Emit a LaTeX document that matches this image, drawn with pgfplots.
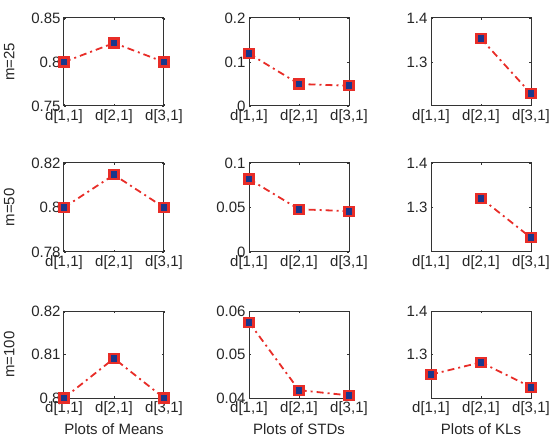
\documentclass[border=0pt]{standalone}
\usepackage{pgfplots}
\pgfplotsset{compat=1.18}
\usepackage{fontspec}
\setmainfont{Liberation Sans}
\definecolor{lred}{RGB}{232,45,40}
\definecolor{mblue}{RGB}{25,55,140}
\pgfplotsset{
 panel/.style={
   scale only axis, width=100pt, height=88pt,
   anchor=south west,
   xmin=1, xmax=3, xtick={1,2,3},
   xticklabels={{d[1,1]},{d[2,1]},{d[3,1]}},
   tick align=inside, major tick length=2pt,
   axis line style={line width=1pt, black!80},
   tick style={black!80, line width=0.6pt},
   clip=false,
   scaled y ticks=false,
   yticklabel style={/pgf/number format/fixed, /pgf/number format/precision=2},
   /pgf/number format/assume math mode=true,
   every tick label/.append style={text=black!85},
   every axis y label/.style={at={(axis description cs:-0.46,0.5)}, rotate=90, anchor=south, text=black!85},
   every axis x label/.style={at={(axis description cs:0.5,0)}, anchor=north, yshift=-22pt, text=black!85},
 },
 ser/.style={lred, line width=1.8pt, dash pattern=on 7pt off 4pt on 2pt off 4pt,
   mark=square*, mark size=4.5pt, mark options={solid, draw=lred, fill=mblue, line width=2.2pt}},
}
\begin{document}
\begin{tikzpicture}[font=\fontsize{15}{18}\selectfont]
\useasboundingbox (0,0) rectangle (550pt,440pt);
% Row 1: m=25
\begin{axis}[panel, at={(64pt,334pt)}, ymin=0.75, ymax=0.85, ytick={0.75,0.8,0.85}, ylabel={m=25}]
\addplot[ser] coordinates {(1,0.800) (2,0.8216) (3,0.800)};
\end{axis}
\begin{axis}[panel, at={(249pt,334pt)}, ymin=0, ymax=0.2, ytick={0,0.1,0.2}]
\addplot[ser] coordinates {(1,0.119) (2,0.050) (3,0.046)};
\end{axis}
\begin{axis}[panel, at={(431pt,334pt)}, ymin=1.2, ymax=1.4, ytick={1.3,1.4}]
\addplot[ser] coordinates {(2,1.353) (3,1.228)};
\end{axis}
% Row 2: m=50
\begin{axis}[panel, at={(64pt,188pt)}, height=89pt, ymin=0.78, ymax=0.82, ytick={0.78,0.8,0.82}, ylabel={m=50}]
\addplot[ser] coordinates {(1,0.800) (2,0.8147) (3,0.800)};
\end{axis}
\begin{axis}[panel, at={(249pt,188pt)}, height=89pt, ymin=0, ymax=0.1, ytick={0,0.05,0.1}]
\addplot[ser] coordinates {(1,0.082) (2,0.048) (3,0.0459)};
\end{axis}
\begin{axis}[panel, at={(431pt,188pt)}, height=89pt, ymin=1.2, ymax=1.4, ytick={1.3,1.4}]
\addplot[ser] coordinates {(2,1.321) (3,1.232)};
\end{axis}
% Row 3: m=100
\begin{axis}[panel, at={(64pt,42pt)}, height=87pt, ymin=0.8, ymax=0.82, ytick={0.8,0.81,0.82}, ylabel={m=100}, xlabel={Plots of Means}]
\addplot[ser] coordinates {(1,0.800) (2,0.8091) (3,0.800)};
\end{axis}
\begin{axis}[panel, at={(249pt,42pt)}, height=87pt, ymin=0.04, ymax=0.06, ytick={0.04,0.05,0.06}, xlabel={Plots of STDs}]
\addplot[ser] coordinates {(1,0.0574) (2,0.0418) (3,0.0406)};
\end{axis}
\begin{axis}[panel, at={(431pt,42pt)}, height=87pt, ymin=1.2, ymax=1.4, ytick={1.3,1.4}, xlabel={Plots of KLs}]
\addplot[ser] coordinates {(1,1.254) (2,1.282) (3,1.225)};
\end{axis}
\end{tikzpicture}
\end{document}
